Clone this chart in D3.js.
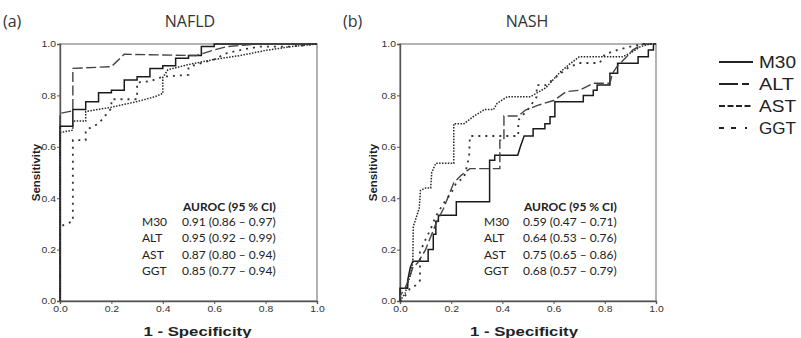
<!DOCTYPE html>
<html><head><meta charset="utf-8">
<script src="https://cdn.jsdelivr.net/npm/d3@7"></script>
<style>body{margin:0;background:#fff}svg{display:block}</style>
</head><body>
<script>
// ---------- data ----------
const tickValues = [0, 0.2, 0.4, 0.6, 0.8, 1.0];
const seriesNames = ["M30", "ALT", "AST", "GGT"];
const panelTitles = ["NAFLD", "NASH"];
const panelLetters = ["(a)", "(b)"];

const nafldM30 = [[0,0],[0,0.68],[0.05,0.68],[0.05,0.745],[0.1,0.745],[0.1,0.775],[0.15,0.775],[0.15,0.81],[0.2,0.81],[0.2,0.82],[0.25,0.82],[0.25,0.86],[0.3,0.86],[0.3,0.873],[0.35,0.873],[0.35,0.905],[0.4,0.905],[0.4,0.915],[0.45,0.915],[0.45,0.945],[0.5,0.945],[0.5,0.955],[0.55,0.955],[0.55,0.99],[0.6,0.99],[0.6,1],[1,1]];
const nafldALT = [[0,0],[0,0.73],[0.05,0.74],[0.05,0.905],[0.2,0.912],[0.25,0.96],[0.53,0.955],[0.6,0.977],[0.65,0.99],[0.77,1],[1,1]];
const nafldAST = [[0,0],[0,0.655],[0.05,0.665],[0.05,0.7],[0.1,0.7],[0.1,0.737],[0.2,0.754],[0.3,0.776],[0.37,0.795],[0.4,0.808],[0.4,0.87],[0.42,0.9],[0.5,0.92],[0.6,0.94],[0.7,0.955],[0.8,0.975],[0.9,0.99],[1,1]];
const nafldGGT = [[0,0],[0,0.29],[0.05,0.31],[0.05,0.626],[0.1,0.626],[0.1,0.665],[0.15,0.69],[0.2,0.75],[0.2,0.785],[0.3,0.785],[0.3,0.85],[0.35,0.855],[0.4,0.873],[0.5,0.88],[0.5,0.91],[0.55,0.926],[0.6,0.94],[0.65,0.965],[0.72,0.98],[0.78,0.99],[0.9,0.99],[1,1]];

const nashM30 = [[0,0],[0,0.05],[0.03,0.05],[0.03,0.08],[0.04,0.13],[0.05,0.155],[0.11,0.155],[0.11,0.2],[0.13,0.2],[0.13,0.26],[0.14,0.26],[0.14,0.31],[0.15,0.31],[0.15,0.334],[0.22,0.334],[0.22,0.386],[0.35,0.386],[0.35,0.548],[0.37,0.548],[0.37,0.567],[0.46,0.567],[0.47,0.6],[0.485,0.642],[0.52,0.642],[0.52,0.67],[0.566,0.67],[0.566,0.69],[0.586,0.69],[0.586,0.717],[0.605,0.717],[0.605,0.775],[0.716,0.775],[0.716,0.8],[0.755,0.8],[0.755,0.82],[0.77,0.82],[0.77,0.84],[0.82,0.84],[0.82,0.886],[0.85,0.886],[0.85,0.925],[0.93,0.925],[0.93,0.95],[0.97,0.95],[0.97,0.977],[0.99,0.977],[0.99,1],[1,1]];
const nashALT = [[0,0],[0,0.02],[0.02,0.05],[0.04,0.1],[0.05,0.13],[0.07,0.15],[0.1,0.2],[0.12,0.25],[0.14,0.3],[0.17,0.36],[0.19,0.41],[0.21,0.46],[0.24,0.49],[0.273,0.515],[0.39,0.515],[0.39,0.626],[0.406,0.626],[0.406,0.72],[0.462,0.72],[0.49,0.743],[0.54,0.762],[0.6,0.78],[0.65,0.815],[0.7,0.82],[0.755,0.847],[0.82,0.847],[0.83,0.886],[0.846,0.91],[0.885,0.95],[0.91,0.977],[0.95,1],[1,1]];
const nashAST = [[0,0],[0.02,0.03],[0.04,0.1],[0.05,0.15],[0.052,0.29],[0.075,0.36],[0.08,0.43],[0.1,0.44],[0.12,0.44],[0.124,0.5],[0.14,0.536],[0.21,0.536],[0.21,0.69],[0.25,0.69],[0.29,0.72],[0.33,0.745],[0.365,0.745],[0.38,0.77],[0.42,0.795],[0.51,0.795],[0.57,0.83],[0.625,0.89],[0.66,0.92],[0.7,0.95],[0.87,0.95],[0.9,0.965],[0.94,0.99],[0.977,1],[1,1]];
const nashGGT = [[0,0],[0.02,0.02],[0.04,0.05],[0.06,0.06],[0.078,0.08],[0.078,0.19],[0.1,0.24],[0.12,0.28],[0.14,0.33],[0.17,0.38],[0.2,0.42],[0.22,0.46],[0.25,0.48],[0.27,0.56],[0.273,0.642],[0.462,0.642],[0.462,0.704],[0.5,0.745],[0.534,0.795],[0.534,0.84],[0.57,0.84],[0.62,0.88],[0.66,0.91],[0.7,0.926],[0.78,0.926],[0.8,0.96],[0.85,0.977],[0.9,0.99],[0.95,1],[1,1]];

const aurocHeader = "AUROC (95 % CI)";
const nafldAuroc = ["0.91 (0.86 \u2013 0.97)", "0.95 (0.92 \u2013 0.99)", "0.87 (0.80 \u2013 0.94)", "0.85 (0.77 \u2013 0.94)"];
const nashAuroc = ["0.59 (0.47 \u2013 0.71)", "0.64 (0.53 \u2013 0.76)", "0.75 (0.65 \u2013 0.86)", "0.68 (0.57 \u2013 0.79)"];

// ---------- styles ----------
const styles = {
  M30: {stroke: "#1a1a1a", dash: null, w: 1.5},
  ALT: {stroke: "#444", dash: "10,3.5", w: 1.4},
  AST: {stroke: "#262626", dash: "1.5,1.4", w: 1.5},
  GGT: {stroke: "#333", dash: "2,5", w: 1.8}
};
const legendDash = {M30: null, ALT: "19,4,7,100", AST: "6,2.5", GGT: "5,7,5,9,2,100"};

const W = 801, H = 338;
const svg = d3.select("body").append("svg").attr("width", W).attr("height", H);
const sans = "Liberation Sans, Arial, sans-serif";

const panels = [
  {left: 60, right: 317, top: 44, bottom: 301, data: [nafldM30, nafldALT, nafldAST, nafldGGT], auroc: nafldAuroc,
   letterX: 3, titleX: 190, sensX: 40, specX: 197.5, hdrX: 183, lblX: 142, valX: 182},
  {left: 400, right: 656, top: 44, bottom: 301, data: [nashM30, nashALT, nashAST, nashGGT], auroc: nashAuroc,
   letterX: 343, titleX: 527, sensX: 377, specX: 524, hdrX: 524, lblX: 484, valX: 523}
];

panels.forEach((p, pi) => {
  const x = d3.scaleLinear().domain([0, 1]).range([p.left, p.right]);
  const y = d3.scaleLinear().domain([0, 1]).range([p.bottom, p.top]);
  const g = svg.append("g");

  g.append("rect").attr("x", p.left).attr("y", p.top)
    .attr("width", p.right - p.left).attr("height", p.bottom - p.top)
    .attr("fill", "none").attr("stroke", "#999").attr("stroke-width", 1.5);

  const yAxis = d3.axisLeft(y).tickValues(tickValues).tickFormat(d3.format(".1f")).tickSize(3).tickPadding(1);
  const xAxis = d3.axisBottom(x).tickValues(tickValues).tickFormat(d3.format(".1f")).tickSize(3).tickPadding(2);
  const ya = g.append("g").attr("transform", `translate(${p.left},0)`).call(yAxis);
  const xa = g.append("g").attr("transform", `translate(0,${p.bottom})`).call(xAxis);
  [ya, xa].forEach(a => {
    a.select(".domain").attr("stroke", "#555").attr("stroke-width", 1.4);
    a.selectAll(".tick line").attr("stroke", "#555");
    a.selectAll(".tick text").attr("fill", "#333").style("font-family", sans).style("font-size", "9px")
      .attr("textLength", 14.5).attr("lengthAdjust", "spacingAndGlyphs");
  });

  const line = d3.line().x(d => x(d[0])).y(d => y(d[1]));
  p.data.forEach((ser, si) => {
    const st = styles[seriesNames[si]];
    g.append("path").datum(ser).attr("d", line)
      .attr("fill", "none").attr("stroke", st.stroke).attr("stroke-width", st.w)
      .attr("stroke-dasharray", st.dash);
  });

  svg.append("text").attr("x", p.letterX).attr("y", 27).text(panelLetters[pi])
    .style("font-family", "Open Sans, sans-serif").style("font-size", "16px").attr("fill", "#333");
  svg.append("text").attr("x", p.titleX).attr("y", 27).attr("text-anchor", "middle").text(panelTitles[pi])
    .style("font-family", "Open Sans, sans-serif").style("font-size", "16px").attr("fill", "#333");
  svg.append("text").attr("transform", `translate(${p.sensX},${(p.top + p.bottom) / 2}) rotate(-90)`)
    .attr("text-anchor", "middle").text("Sensitivity")
    .style("font-family", sans).style("font-size", "11.5px").style("font-weight", "bold").attr("fill", "#222");
  svg.append("text").attr("x", p.specX - 54).attr("y", 336).text("1 - Specificity")
    .attr("textLength", 108).attr("lengthAdjust", "spacingAndGlyphs")
    .style("font-family", sans).style("font-size", "12.5px").style("font-weight", "bold").attr("fill", "#222");

  const tf = "Lato, Open Sans, sans-serif";
  svg.append("text").attr("x", p.hdrX).attr("y", 211).text(aurocHeader)
    .style("font-family", tf).style("font-size", "12px").style("font-weight", "bold").attr("fill", "#222");
  seriesNames.forEach((n, i) => {
    const yy = 226 + i * 16.4;
    svg.append("text").attr("x", p.lblX).attr("y", yy).text(n)
      .style("font-family", tf).style("font-size", "12px").attr("fill", "#222");
    svg.append("text").attr("x", p.valX).attr("y", yy).text(p.auroc[i])
      .style("font-family", tf).style("font-size", "12px").attr("fill", "#222");
  });
});

const lg = svg.append("g");
seriesNames.forEach((n, i) => {
  const yy = 62 + i * 22;
  lg.append("line").attr("x1", 719).attr("x2", 753).attr("y1", yy).attr("y2", yy)
    .attr("stroke", "#222").attr("stroke-width", 2).attr("stroke-dasharray", legendDash[n]);
  lg.append("text").attr("x", 759).attr("y", yy + 6).text(n)
    .attr("textLength", n === "ALT" ? 35 : 37).attr("lengthAdjust", "spacingAndGlyphs")
    .style("font-family", sans).style("font-size", "17px").attr("fill", "#222");
});
</script>
</body></html>
